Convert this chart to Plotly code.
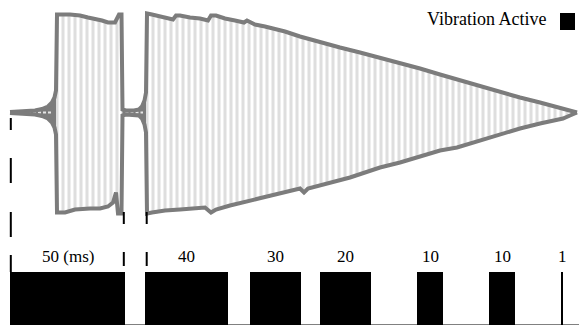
import plotly.graph_objects as go

# ---------------- data ----------------
# time axis in arbitrary units, amplitude in arbitrary units (0 = rest)
upper_t = [10, 25, 35, 42, 48, 52, 54.5, 56, 57, 70, 80, 88, 95, 102, 108, 115, 119, 121.5,
           122.5, 126, 134, 139, 142, 144.5, 146, 147, 152, 160, 168, 173, 176, 180, 190, 200,
           208, 211, 216, 225, 235, 244, 247, 255, 265, 275, 285, 300, 320, 340, 360, 380,
           400, 420, 440, 460, 480, 500, 520, 540, 556, 563, 570, 577]
upper_a = [0.5, 1, 2, 3.5, 6, 10, 15, 22, 98, 98, 97, 95, 94, 92, 90, 90, 98, 98,
           3, 2, 2, 3, 6, 12, 20, 99, 98, 96, 94, 93, 97, 97, 95, 94,
           92, 97, 97, 94, 92, 90, 92, 88, 86, 84, 81, 76, 70, 65, 60, 55,
           49, 44, 38, 32, 26, 20, 15, 10, 6, 4, 2, 0]

lower_t = [10, 25, 35, 42, 48, 52, 54.5, 56, 57, 65, 75, 90, 100, 108, 113, 116, 118, 121.5,
           122.5, 126, 134, 139, 142, 144.5, 146, 147, 152, 165, 180, 195, 205, 211, 216, 230,
           250, 270, 300, 304, 308, 350, 380, 400, 420, 440, 457, 480, 500, 520, 540, 556,
           563, 570, 577]
lower_a = [-0.5, -1, -2, -3.5, -6, -10, -15, -22, -100, -100, -97, -96, -96, -94, -90, -80, -101, -101,
           -3, -2, -2, -3, -6, -12, -20, -101, -100, -98, -97, -96, -95, -100, -97, -93,
           -88, -83, -76, -80, -76, -65, -55, -50, -44, -38, -35, -28, -22, -16, -11, -7,
           -6, -3, 0]

pulse_start = [10, 145, 250, 320, 417, 489, 561.2]
pulse_end = [125, 228, 301, 371, 443, 515, 563]
pulse_labels = ["50 (ms)", "40", "30", "20", "10", "10", "1"]
legend_label = "Vibration Active"

# ---------------- figure ----------------
W, H = 579, 326
CENTER_PX = 112.5           # pixel row of the rest line
Y_TOP = CENTER_PX           # y value at top of figure
Y_BOT = CENTER_PX - H       # y value at bottom of figure


def py(p):
    """pixel row -> y value of the waveform axis"""
    return CENTER_PX - p


FONT = "Liberation Serif, Times New Roman, serif"
ENV = "#7c7c7c"

fig = go.Figure()

# striped interior of the oscillation
fig.add_trace(go.Scatter(
    x=upper_t + lower_t[::-1], y=upper_a + lower_a[::-1],
    mode="lines", fill="toself", line=dict(width=0),
    fillpattern=dict(shape="|", fgcolor="#bdbdbd", bgcolor="white", size=6, solidity=0.5),
    hoverinfo="skip", showlegend=False))

# dark skirts where the oscillation ramps up (low-amplitude segments)
for lo_t, hi_t in ((10, 56), (122.5, 146)):
    ut = [t for t in upper_t if lo_t <= t <= hi_t]
    ua = [a for t, a in zip(upper_t, upper_a) if lo_t <= t <= hi_t]
    lt = [t for t in lower_t if lo_t <= t <= hi_t]
    la = [a for t, a in zip(lower_t, lower_a) if lo_t <= t <= hi_t]
    fig.add_trace(go.Scatter(x=ut + lt[::-1], y=ua + la[::-1], mode="lines", fill="toself",
                             fillcolor=ENV, line=dict(width=0),
                             hoverinfo="skip", showlegend=False))
    fig.add_trace(go.Scatter(x=[lo_t + 18 if lo_t < 50 else lo_t + 3, hi_t - 3], y=[0, 0],
                             mode="lines", line=dict(color="#e6e6e6", width=2, dash="3px,2px"),
                             hoverinfo="skip", showlegend=False))

# envelope
for t, a in ((upper_t, upper_a), (lower_t, lower_a)):
    fig.add_trace(go.Scatter(x=t, y=a, mode="lines",
                             line=dict(color=ENV, width=4),
                             hoverinfo="skip", showlegend=False))

# vibration-active pulses
centers = [(s + e) / 2 for s, e in zip(pulse_start, pulse_end)]
widths = [e - s for s, e in zip(pulse_start, pulse_end)]
fig.add_trace(go.Bar(x=centers, y=[1] * len(centers), width=widths, base=0,
                     marker=dict(color="black", line=dict(width=0)),
                     yaxis="y2", hoverinfo="skip", showlegend=False))

shapes = []
# baseline under the pulses
shapes.append(dict(type="line", xref="x", yref="y2", x0=pulse_start[0], x1=W, y0=0, y1=0,
                   line=dict(color="black", width=1)))
# dashed markers
dash_marks = [
    (10.8, [(118, 130), (158, 183), (212, 237), (255, 272)]),
    (123.8, [(212, 224), (252, 266)]),
    (146.7, [(212, 224), (252, 266)]),
]
for x, segs in dash_marks:
    for p0, p1 in segs:
        shapes.append(dict(type="line", xref="x", yref="y", x0=x, x1=x, y0=py(p0), y1=py(p1),
                           line=dict(color="black", width=2)))
# legend swatch
shapes.append(dict(type="rect", xref="x", yref="y", x0=560, x1=575, y0=py(13), y1=py(30),
                   fillcolor="black", line=dict(width=0)))

annotations = []
for c, lab in zip(centers, pulse_labels):
    annotations.append(dict(x=c, y=py(256), xref="x", yref="y", text=lab, showarrow=False,
                            xanchor="center", yanchor="middle",
                            font=dict(family=FONT, size=17, color="black")))
annotations.append(dict(x=548, y=py(19), xref="x", yref="y", text=legend_label, showarrow=False,
                        xanchor="right", yanchor="middle",
                        font=dict(family=FONT, size=18, color="black")))

fig.update_layout(
    width=W, height=H, margin=dict(l=0, r=0, t=0, b=0),
    paper_bgcolor="white", plot_bgcolor="white",
    showlegend=False, bargap=0,
    xaxis=dict(range=[0, W], visible=False, fixedrange=True),
    yaxis=dict(range=[Y_BOT, Y_TOP], visible=False, domain=[0, 1]),
    yaxis2=dict(range=[0, 1], visible=False, domain=[1 / H, 54.3 / H], anchor="x"),
    shapes=shapes, annotations=annotations,
)

fig.write_html("out.html", config={"displayModeBar": False},
               post_script="document.body.style.margin='0';document.body.style.overflow='hidden';")
